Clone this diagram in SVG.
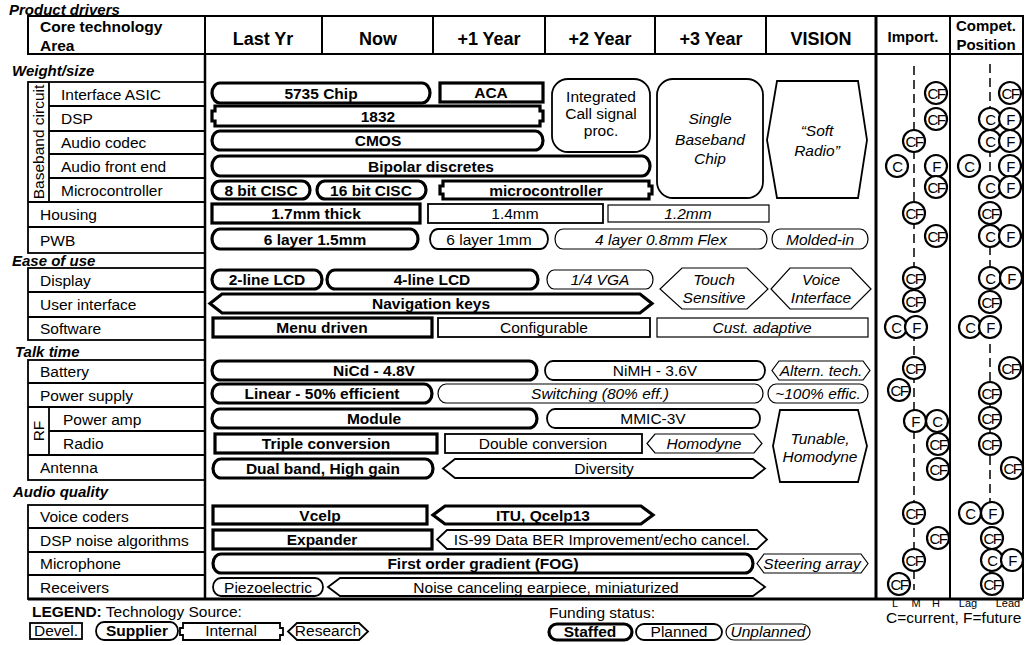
<svg xmlns="http://www.w3.org/2000/svg" width="1029" height="645" viewBox="0 0 1029 645">
<style>
text{font-family:"Liberation Sans",Arial,sans-serif;font-size:15.5px;fill:#000}
.c{text-anchor:middle}
.bd{font-weight:bold}
.it{font-style:italic}
.cat{font-weight:bold;font-style:italic;font-size:15px}
.hd{font-weight:bold;font-size:18px;text-anchor:middle}
.hs{font-weight:bold;font-size:15px;text-anchor:middle}
.ln{fill:none;stroke:#000}
.b{fill:#fff;stroke:#000}
.st{stroke-width:3.2}
.pl{stroke-width:1.8}
.un{stroke-width:1.2}
.m circle{fill:#fff;stroke:#000;stroke-width:2.2}
.m text{font-size:15px;text-anchor:middle;letter-spacing:-1.5px}
.dash{stroke:#000;stroke-width:1.5;stroke-dasharray:9 5;fill:none}
.sl{font-size:11px;text-anchor:middle}
</style>
<rect width="1029" height="645" fill="#fff"/>

<text x="9" y="15" class="cat">Product drivers</text>

<!-- header -->
<g id="header">
<rect x="28" y="16" width="995" height="38" class="ln" stroke-width="2"/>
<g class="ln" stroke-width="2">
<line x1="205" y1="16" x2="205" y2="54"/><line x1="322" y1="16" x2="322" y2="54"/>
<line x1="433" y1="16" x2="433" y2="54"/><line x1="545" y1="16" x2="545" y2="54"/>
<line x1="655" y1="16" x2="655" y2="54"/><line x1="766" y1="16" x2="766" y2="54"/>
<line x1="876" y1="16" x2="876" y2="54" stroke-width="3"/><line x1="950" y1="16" x2="950" y2="54"/>
</g>
<text x="40" y="32" class="bd">Core technology</text>
<text x="40" y="51" class="bd">Area</text>
<text x="263" y="45" class="hd">Last Yr</text>
<text x="378" y="45" class="hd">Now</text>
<text x="489" y="45" class="hd">+1 Year</text>
<text x="600" y="45" class="hd">+2 Year</text>
<text x="711" y="45" class="hd">+3 Year</text>
<text x="821" y="45" class="hd">VISION</text>
<text x="913" y="42" class="hs">Import.</text>
<text x="986" y="31" class="hs">Compet.</text>
<text x="986" y="50" class="hs">Position</text>
</g>

<!-- frame -->
<g id="frame" class="ln">
<line x1="205" y1="54" x2="205" y2="599" stroke-width="2.5"/>
<line x1="876" y1="54" x2="876" y2="599" stroke-width="3"/>
<line x1="950" y1="54" x2="950" y2="599" stroke-width="2"/>
<line x1="1023" y1="54" x2="1023" y2="599" stroke-width="2"/>
<line x1="28" y1="599" x2="1023" y2="599" stroke-width="3"/>
</g>

<!-- left column groups -->
<g id="grp-weight" class="ln" stroke-width="1.8">
<rect x="28" y="82" width="177" height="171"/>
<line x1="49" y1="82" x2="49" y2="202"/>
<line x1="49" y1="106" x2="205" y2="106"/><line x1="49" y1="131" x2="205" y2="131"/>
<line x1="49" y1="154" x2="205" y2="154"/><line x1="49" y1="178" x2="205" y2="178"/>
<line x1="28" y1="202" x2="205" y2="202"/><line x1="28" y1="227" x2="205" y2="227"/>
</g>
<text x="12" y="76" class="cat">Weight/size</text>
<text transform="translate(44,142) rotate(-90)" class="c" font-size="15">Baseband circuit</text>
<text x="61" y="100">Interface ASIC</text>
<text x="61" y="124">DSP</text>
<text x="61" y="148">Audio codec</text>
<text x="61" y="172">Audio front end</text>
<text x="61" y="196">Microcontroller</text>
<text x="40" y="220">Housing</text>
<text x="40" y="246">PWB</text>

<g id="grp-ease" class="ln" stroke-width="1.8">
<rect x="28" y="268" width="177" height="72"/>
<line x1="28" y1="292" x2="205" y2="292"/><line x1="28" y1="317" x2="205" y2="317"/>
</g>
<text x="12" y="266" class="cat">Ease of use</text>
<text x="40" y="286">Display</text>
<text x="40" y="310">User interface</text>
<text x="40" y="334">Software</text>

<g id="grp-talk" class="ln" stroke-width="1.8">
<rect x="28" y="360" width="177" height="120"/>
<line x1="28" y1="383" x2="205" y2="383"/><line x1="28" y1="407" x2="205" y2="407"/>
<line x1="49" y1="407" x2="49" y2="455"/><line x1="49" y1="431" x2="205" y2="431"/>
<line x1="28" y1="455" x2="205" y2="455"/>
</g>
<text x="15" y="357" class="cat">Talk time</text>
<text transform="translate(44,431) rotate(-90)" class="c" font-size="15">RF</text>
<text x="40" y="377">Battery</text>
<text x="40" y="401">Power supply</text>
<text x="63" y="425">Power amp</text>
<text x="63" y="449">Radio</text>
<text x="40" y="473">Antenna</text>

<g id="grp-audio" class="ln" stroke-width="1.8">
<rect x="28" y="505" width="177" height="94"/>
<line x1="28" y1="528" x2="205" y2="528"/><line x1="28" y1="552" x2="205" y2="552"/>
<line x1="28" y1="575" x2="205" y2="575"/>
</g>
<text x="13" y="497" class="cat">Audio quality</text>
<text x="40" y="522">Voice coders</text>
<text x="40" y="546">DSP noise algorithms</text>
<text x="40" y="569">Microphone</text>
<text x="40" y="593">Receivers</text>

<!-- bars -->
<g id="n-5735"><rect x="212" y="83" width="218" height="20" rx="8" ry="10" class="b st"/><text x="321" y="98.5" class="c bd">5735 Chip</text></g>
<g id="n-aca"><rect x="440" y="83" width="103" height="19" class="b st"/><text x="491" y="98" class="c bd">ACA</text></g>
<g id="n-integrated"><rect x="552" y="79" width="98" height="73" rx="16" class="b pl"/><text x="601" y="102" class="c">Integrated</text><text x="601" y="119" class="c">Call signal</text><text x="601" y="136" class="c">proc.</text></g>
<g id="n-single"><rect x="657" y="79" width="106" height="119" rx="16" class="b pl"/><text x="710" y="124" class="c it">Single</text><text x="710" y="145" class="c it">Baseband</text><text x="710" y="164" class="c it">Chip</text></g>
<g id="n-soft"><polygon points="777,81 858,81 867,140 858,198 777,198 767,140" class="b pl"/><text x="817" y="136" class="c it">“Soft</text><text x="817" y="156" class="c it">Radio”</text></g>
<g id="n-1832"><polygon points="215,106 540,106 540,111 543,111 543,121 540,121 540,126 215,126 215,121 212,121 212,111 215,111" class="b st"/><text x="378" y="121.5" class="c bd">1832</text></g>
<g id="n-cmos"><rect x="212" y="131" width="331" height="19" rx="8" ry="9.5" class="b st"/><text x="378" y="146" class="c bd">CMOS</text></g>
<g id="n-bipolar"><rect x="212" y="156" width="438" height="20" rx="8" ry="10" class="b st"/><text x="431" y="171.5" class="c bd">Bipolar discretes</text></g>
<g id="n-8bit"><rect x="212" y="181" width="98" height="18" rx="8" ry="9" class="b st"/><text x="261" y="195.5" class="c bd">8 bit CISC</text></g>
<g id="n-16bit"><rect x="317" y="181" width="109" height="18" rx="8" ry="9" class="b st"/><text x="371" y="195.5" class="c bd">16 bit CISC</text></g>
<g id="n-micro"><polygon points="443,181 649,181 649,186 652,186 652,194 649,194 649,199 443,199 443,194 440,194 440,186 443,186" class="b st"/><text x="546" y="195.5" class="c bd">microcontroller</text></g>
<g id="n-17mm"><rect x="212" y="204" width="208" height="19" class="b st"/><text x="316" y="219" class="c bd">1.7mm thick</text></g>
<g id="n-14mm"><rect x="428" y="204" width="175" height="19" class="b pl"/><text x="515" y="219" class="c">1.4mm</text></g>
<g id="n-12mm"><rect x="608" y="205" width="161" height="17" class="b un"/><text x="688" y="219" class="c it">1.2mm</text></g>
<g id="n-6l15"><rect x="212" y="229" width="206" height="20" rx="8" ry="10" class="b st"/><text x="315" y="244.5" class="c bd">6 layer 1.5mm</text></g>
<g id="n-6l1"><rect x="430" y="229" width="118" height="20" rx="8" ry="10" class="b pl"/><text x="489" y="244.5" class="c">6 layer 1mm</text></g>
<g id="n-4l"><rect x="555" y="229" width="212" height="20" rx="8" ry="10" class="b un"/><text x="661" y="244.5" class="c it">4 layer 0.8mm Flex</text></g>
<g id="n-molded"><rect x="772" y="229" width="96" height="20" rx="8" ry="10" class="b un"/><text x="820" y="244.5" class="c it">Molded-in</text></g>

<g id="n-2lcd"><rect x="212" y="270" width="110" height="19" rx="8" ry="9.5" class="b st"/><text x="267" y="285" class="c bd">2-line LCD</text></g>
<g id="n-4lcd"><rect x="327" y="270" width="211" height="19" rx="8" ry="9.5" class="b st"/><text x="432" y="285" class="c bd">4-line LCD</text></g>
<g id="n-vga"><rect x="547" y="270" width="106" height="19" rx="7" ry="9.5" class="b un"/><text x="600" y="285" class="c it">1/4 VGA</text></g>
<g id="n-touch"><polygon points="682,268 747,268 768,289 747,309 682,309 660,289" class="b un"/><text x="714" y="285" class="c it">Touch</text><text x="714" y="303" class="c it">Sensitive</text></g>
<g id="n-voice"><polygon points="790,268 851,268 871,289 851,309 790,309 771,289" class="b un"/><text x="821" y="285" class="c it">Voice</text><text x="821" y="303" class="c it">Interface</text></g>
<g id="n-nav"><polygon points="222,294 640,294 652,303.5 640,313 222,313 210,303.5" class="b st"/><text x="431" y="309" class="c bd">Navigation keys</text></g>
<g id="n-menu"><rect x="213" y="318" width="219" height="19" class="b st"/><text x="322" y="333" class="c bd">Menu driven</text></g>
<g id="n-config"><rect x="438" y="318" width="212" height="19" class="b pl"/><text x="544" y="333" class="c">Configurable</text></g>
<g id="n-cust"><rect x="657" y="318" width="211" height="19" class="b un"/><text x="762" y="333" class="c it">Cust. adaptive</text></g>

<g id="n-nicd"><rect x="212" y="361" width="325" height="19" rx="8" ry="9.5" class="b st"/><text x="374" y="376" class="c bd">NiCd - 4.8V</text></g>
<g id="n-nimh"><rect x="545" y="361" width="220" height="19" rx="8" ry="9.5" class="b pl"/><text x="655" y="376" class="c">NiMH - 3.6V</text></g>
<g id="n-altern"><polygon points="779,361 863,361 870,370.5 863,380 779,380 772,370.5" class="b un"/><text x="821" y="376" class="c it">Altern. tech.</text></g>
<g id="n-linear"><rect x="212" y="384" width="220" height="19" rx="8" ry="9.5" class="b st"/><text x="322" y="399" class="c bd">Linear - 50% efficient</text></g>
<g id="n-switch"><rect x="438" y="384" width="325" height="19" rx="8" ry="9.5" class="b un"/><text x="600" y="399" class="c it">Switching (80% eff.)</text></g>
<g id="n-100"><rect x="768" y="384" width="100" height="19" rx="8" ry="9.5" class="b un"/><text x="818" y="399" class="c it">~100% effic.</text></g>
<g id="n-module"><rect x="212" y="409" width="325" height="19" rx="8" ry="9.5" class="b st"/><text x="374" y="424" class="c bd">Module</text></g>
<g id="n-mmic"><rect x="547" y="409" width="213" height="19" rx="8" ry="9.5" class="b pl"/><text x="653" y="424" class="c">MMIC-3V</text></g>
<g id="n-tunable"><polygon points="780,410 858,410 867,446 858,482 780,482 773,446" class="b pl"/><text x="820" y="444" class="c it">Tunable,</text><text x="820" y="462" class="c it">Homodyne</text></g>
<g id="n-triple"><rect x="215" y="434" width="222" height="19" class="b st"/><text x="326" y="449" class="c bd">Triple conversion</text></g>
<g id="n-double"><rect x="445" y="434" width="197" height="19" class="b pl"/><text x="543" y="449" class="c">Double conversion</text></g>
<g id="n-homodyne"><polygon points="655,434 754,434 762,443.5 754,453 655,453 647,443.5" class="b un"/><text x="704" y="449" class="c it">Homodyne</text></g>
<g id="n-dual"><rect x="213" y="459" width="220" height="19" rx="8" ry="9.5" class="b st"/><text x="323" y="474" class="c bd">Dual band, High gain</text></g>
<g id="n-diversity"><polygon points="455,459 753,459 765,468.5 753,478 455,478 443,468.5" class="b pl"/><text x="604" y="474" class="c">Diversity</text></g>

<g id="n-vcelp"><rect x="213" y="506" width="214" height="18" class="b st"/><text x="320" y="520.5" class="c bd">Vcelp</text></g>
<g id="n-itu"><polygon points="445,506 641,506 653,515 641,524 445,524 433,515" class="b st"/><text x="543" y="520.5" class="c bd">ITU, Qcelp13</text></g>
<g id="n-expander"><rect x="213" y="530" width="219" height="19" class="b st"/><text x="322" y="545" class="c bd">Expander</text></g>
<g id="n-is99"><polygon points="447,530 757,530 767,539.5 757,549 447,549 437,539.5" class="b pl"/><text x="602" y="545" class="c">IS-99 Data BER Improvement/echo cancel.</text></g>
<g id="n-fog"><rect x="213" y="554" width="540" height="19" rx="8" ry="9.5" class="b st"/><text x="483" y="569" class="c bd">First order gradient (FOG)</text></g>
<g id="n-steering"><polygon points="764,554 861,554 868,563.5 861,573 764,573 757,563.5" class="b un"/><text x="812" y="569" class="c it">Steering array</text></g>
<g id="n-piezo"><rect x="213" y="578" width="110" height="18" rx="8" ry="9" class="b pl"/><text x="268" y="592.5" class="c">Piezoelectric</text></g>
<g id="n-noise"><polygon points="340,578 753,578 765,587 753,596 340,596 328,587" class="b pl"/><text x="546" y="592.5" class="c">Noise canceling earpiece, miniaturized</text></g>

<!-- scales -->
<g id="scales">
<line x1="914" y1="66" x2="914" y2="590" class="dash"/>
<line x1="990" y1="64" x2="990" y2="590" class="dash"/>
</g>

<!-- importance markers -->
<g id="import" class="m">
<circle cx="936" cy="93" r="11"/><text x="936" y="98.5">CF</text>
<circle cx="936" cy="119" r="11"/><text x="936" y="124.5">CF</text>
<circle cx="914" cy="141" r="11"/><text x="914" y="146.5">CF</text>
<circle cx="897" cy="166" r="11"/><text x="897" y="171.5">C</text>
<circle cx="936" cy="166" r="11"/><text x="936" y="171.5">F</text>
<circle cx="936" cy="187" r="11"/><text x="936" y="192.5">CF</text>
<circle cx="914" cy="213" r="11"/><text x="914" y="218.5">CF</text>
<circle cx="936" cy="236" r="11"/><text x="936" y="241.5">CF</text>
<circle cx="914" cy="278" r="11"/><text x="914" y="283.5">CF</text>
<circle cx="914" cy="301" r="11"/><text x="914" y="306.5">CF</text>
<circle cx="896" cy="327" r="11"/><text x="896" y="332.5">C</text>
<circle cx="916" cy="327" r="11"/><text x="916" y="332.5">F</text>
<circle cx="914" cy="368" r="11"/><text x="914" y="373.5">CF</text>
<circle cx="899" cy="390" r="11"/><text x="899" y="395.5">CF</text>
<circle cx="915" cy="421" r="11"/><text x="915" y="426.5">F</text>
<circle cx="937" cy="421" r="11"/><text x="937" y="426.5">C</text>
<circle cx="938" cy="444" r="11"/><text x="938" y="449.5">CF</text>
<circle cx="938" cy="469" r="11"/><text x="938" y="474.5">CF</text>
<circle cx="914" cy="513" r="11"/><text x="914" y="518.5">CF</text>
<circle cx="938" cy="538" r="11"/><text x="938" y="543.5">CF</text>
<circle cx="914" cy="560" r="11"/><text x="914" y="565.5">CF</text>
<circle cx="899" cy="584" r="11"/><text x="899" y="589.5">CF</text>
</g>

<!-- competitive position markers -->
<g id="compet" class="m">
<circle cx="1010" cy="93" r="11"/><text x="1010" y="98.5">CF</text>
<circle cx="990" cy="119" r="11"/><text x="990" y="124.5">C</text>
<circle cx="1010" cy="119" r="11"/><text x="1010" y="124.5">F</text>
<circle cx="990" cy="141" r="11"/><text x="990" y="146.5">C</text>
<circle cx="1010" cy="141" r="11"/><text x="1010" y="146.5">F</text>
<circle cx="969" cy="166" r="11"/><text x="969" y="171.5">C</text>
<circle cx="1010" cy="166" r="11"/><text x="1010" y="171.5">F</text>
<circle cx="990" cy="187" r="11"/><text x="990" y="192.5">C</text>
<circle cx="1010" cy="187" r="11"/><text x="1010" y="192.5">F</text>
<circle cx="990" cy="213" r="11"/><text x="990" y="218.5">CF</text>
<circle cx="990" cy="236" r="11"/><text x="990" y="241.5">C</text>
<circle cx="1010" cy="236" r="11"/><text x="1010" y="241.5">F</text>
<circle cx="990" cy="278" r="11"/><text x="990" y="283.5">C</text>
<circle cx="1011" cy="278" r="11"/><text x="1011" y="283.5">F</text>
<circle cx="990" cy="302" r="11"/><text x="990" y="307.5">CF</text>
<circle cx="970" cy="327" r="11"/><text x="970" y="332.5">C</text>
<circle cx="990" cy="327" r="11"/><text x="990" y="332.5">F</text>
<circle cx="1010" cy="368" r="11"/><text x="1010" y="373.5">CF</text>
<circle cx="990" cy="393" r="11"/><text x="990" y="398.5">CF</text>
<circle cx="990" cy="418" r="11"/><text x="990" y="423.5">CF</text>
<circle cx="990" cy="444" r="11"/><text x="990" y="449.5">CF</text>
<circle cx="1012" cy="468" r="11"/><text x="1012" y="473.5">CF</text>
<circle cx="970" cy="513" r="11"/><text x="970" y="518.5">C</text>
<circle cx="992" cy="513" r="11"/><text x="992" y="518.5">F</text>
<circle cx="992" cy="538" r="11"/><text x="992" y="543.5">CF</text>
<circle cx="992" cy="560" r="11"/><text x="992" y="565.5">C</text>
<circle cx="1012" cy="560" r="11"/><text x="1012" y="565.5">F</text>
<circle cx="992" cy="584" r="11"/><text x="992" y="589.5">CF</text>
</g>

<!-- scale labels -->
<g id="scale-labels">
<text x="895" y="607" class="sl">L</text>
<text x="916" y="607" class="sl">M</text>
<text x="936" y="607" class="sl">H</text>
<text x="968" y="607" class="sl">Lag</text>
<text x="1008" y="607" class="sl">Lead</text>
<text x="886" y="623" font-size="14">C=current, F=future</text>
</g>

<!-- legend -->
<g id="legend">
<text x="32" y="617"><tspan font-weight="bold">LEGEND:</tspan>  Technology Source:</text>
<g id="lg-devel"><rect x="30" y="623" width="52" height="16" class="b pl"/><text x="56" y="636" class="c">Devel.</text></g>
<g id="lg-supplier"><rect x="96" y="622" width="82" height="18" rx="8" ry="9" class="b pl"/><text x="137" y="636" class="c bd">Supplier</text></g>
<g id="lg-internal"><polygon points="183,623 280,623 280,628 283,628 283,635 280,635 280,640 183,640 183,635 180,635 180,628 183,628" class="b pl"/><text x="231" y="636" class="c">Internal</text></g>
<g id="lg-research"><polygon points="297,623 359,623 368,631.5 359,640 297,640 288,631.5" class="b pl"/><text x="328" y="636" class="c">Research</text></g>
<text x="549" y="618">Funding status:</text>
<g id="lg-staffed"><rect x="549" y="624" width="83" height="16" rx="8" ry="8" class="b st"/><text x="590" y="637" class="c bd">Staffed</text></g>
<g id="lg-planned"><rect x="636" y="624" width="86" height="16" rx="8" ry="8" class="b pl"/><text x="679" y="637" class="c">Planned</text></g>
<g id="lg-unplanned"><rect x="726" y="624" width="84" height="16" rx="8" ry="8" class="b un"/><text x="768" y="637" class="c it">Unplanned</text></g>
</g>
</svg>
